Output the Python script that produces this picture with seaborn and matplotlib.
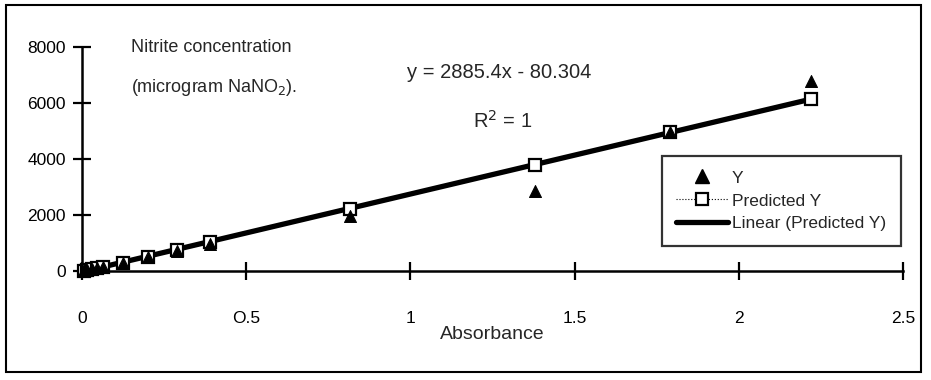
import numpy as np
import pandas as pd
import seaborn as sns
import matplotlib.pyplot as plt
from matplotlib.lines import Line2D
from matplotlib.patches import Rectangle

# values
absorbance = [0.005, 0.015, 0.03, 0.045, 0.065, 0.125, 0.2, 0.29, 0.39, 0.815, 1.38, 1.79, 2.22]
y_obs = [20, 50, 80, 120, 150, 280, 490, 700, 980, 1950, 2850, 4950, 6800]
y_pred = [0, 40, 80, 120, 160, 300, 500, 740, 1040, 2200, 3800, 4960, 6150]
x_ticks = [0, 0.5, 1, 1.5, 2, 2.5]
x_tick_labels = ['0', 'O.5', '1', '1.5', '2', '2.5']
y_ticks = [0, 2000, 4000, 6000, 8000]

df = pd.DataFrame({'Absorbance': absorbance, 'Y': y_obs, 'Predicted Y': y_pred})

sns.set_style('white')
plt.rcParams['font.family'] = ['Liberation Sans', 'DejaVu Sans']

fig = plt.figure(figsize=(9.31, 3.8), dpi=100)
ax = fig.add_axes([82 / 931, 1 - 271 / 380, (903 - 82) / 931, (271 - 47) / 380])

# trendline of the predicted series
sns.regplot(data=df, x='Absorbance', y='Predicted Y', scatter=False, ci=None,
            truncate=True, color='black', line_kws={'linewidth': 3.8}, ax=ax)
sns.lineplot(data=df, x='Absorbance', y='Predicted Y', color='black', linewidth=0.8,
             linestyle=':', marker='s', markersize=8, markerfacecolor='white',
             markeredgecolor='black', markeredgewidth=1.6, ax=ax, clip_on=False)
sns.scatterplot(data=df, x='Absorbance', y='Y', marker='^', s=75, color='black',
                edgecolor='black', ax=ax, clip_on=False, zorder=4)

ax.set_xlim(0, 2.5)
ax.set_ylim(0, 8000)
ax.set_xticks(x_ticks)
ax.set_xticklabels(x_tick_labels)
ax.set_yticks(y_ticks)
ax.tick_params(axis='both', bottom=True, left=True, direction='inout', length=13,
               width=1.6, labelsize=12.5, colors='black')
ax.tick_params(axis='x', pad=22)
ax.tick_params(axis='y', pad=5)
for side in ['top', 'right']:
    ax.spines[side].set_visible(False)
for side in ['left', 'bottom']:
    ax.spines[side].set_linewidth(1.8)
    ax.spines[side].set_color('black')

ax.set_xlabel('Absorbance', fontsize=14, labelpad=0)
ax.set_ylabel('')

ax.text(0.15, 8000, 'Nitrite concentration', fontsize=13, va='center')
ax.text(0.15, 6560, '(microgram NaNO$_2$).', fontsize=13, va='center')
ax.text(1.27, 7100, 'y = 2885.4x - 80.304', fontsize=14.5, va='center', ha='center')
ax.text(1.19, 5350, 'R$^2$ = 1', fontsize=14.5, va='center')

handles = [
    Line2D([], [], color='black', marker='^', linestyle='none', markersize=10),
    Line2D([], [], color='black', marker='s', linestyle=':', linewidth=0.8, markersize=8,
           markerfacecolor='white', markeredgewidth=1.6),
    Line2D([], [], color='black', linewidth=3.8),
]
leg = ax.legend(handles, ['Y', 'Predicted Y', 'Linear (Predicted Y)'],
                loc='upper left', bbox_to_anchor=(0.706, 0.515), fontsize=12.5,
                frameon=True, fancybox=False, edgecolor='black', handlelength=3.0,
                handletextpad=0.2, labelspacing=0.45, borderpad=0.85, borderaxespad=0)
leg.get_frame().set_linewidth(1.6)

fig.patches.append(Rectangle((6 / 931, 1 - 372 / 380), 915 / 931, 367 / 380,
                             transform=fig.transFigure, fill=False, edgecolor='black',
                             linewidth=1.5))

fig.savefig('out.png', dpi=100)
plt.close()
